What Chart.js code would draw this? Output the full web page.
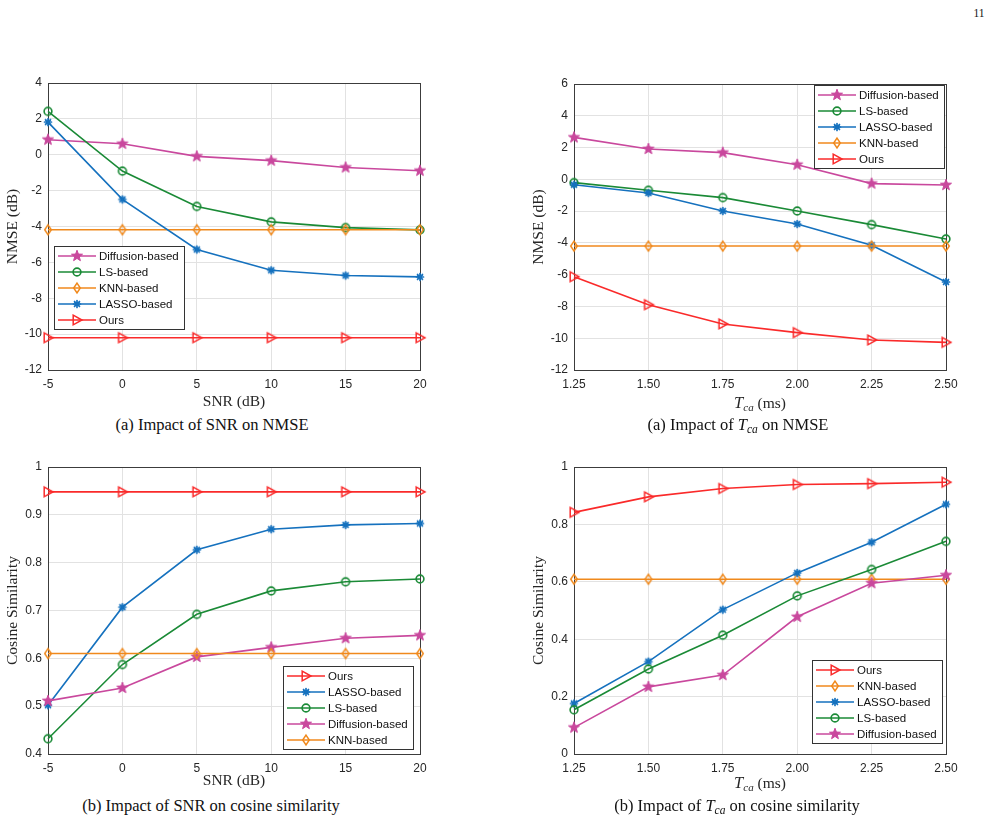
<!DOCTYPE html>
<html><head><meta charset="utf-8">
<script src="https://cdn.jsdelivr.net/npm/chart.js@4.4.0/dist/chart.umd.min.js"></script>
<style>
html,body{margin:0;padding:0;background:#fff;}
body{width:994px;height:829px;position:relative;overflow:hidden;}
canvas{position:absolute;display:block;}
.cap{position:absolute;font-family:"Liberation Serif","Times New Roman",serif;font-size:16.5px;color:#111;white-space:nowrap;transform:translate(-50%,-50%);}
.xt{position:absolute;font-family:"Liberation Serif","Times New Roman",serif;font-size:15.5px;color:#262626;white-space:nowrap;transform:translate(-50%,-50%);}
.xt i{font-size:16.5px;}
.xt sub{font-size:11px;font-style:italic;vertical-align:-3px;}
.cap sub{font-size:11.5px;font-style:italic;vertical-align:-3px;}
</style></head><body>
<div class="cap" style="left:979px;top:13px;font-size:11.5px">11</div>
<canvas id="c1" width="440" height="336" style="left:0;top:75px"></canvas>
<canvas id="c2" width="470" height="336" style="left:500px;top:75px"></canvas>
<canvas id="c3" width="440" height="335" style="left:0;top:455px"></canvas>
<canvas id="c4" width="470" height="335" style="left:500px;top:455px"></canvas>
<div class="xt" style="left:760px;top:403px"><i>T</i><sub>ca</sub> (ms)</div>
<div class="xt" style="left:760px;top:783px"><i>T</i><sub>ca</sub> (ms)</div>
<div class="cap" style="left:212px;top:425px">(a) Impact of SNR on NMSE</div>
<div class="cap" style="left:738px;top:425px">(a) Impact of <i>T</i><sub>ca</sub> on NMSE</div>
<div class="cap" style="left:211px;top:806px">(b) Impact of SNR on cosine similarity</div>
<div class="cap" style="left:737px;top:806px">(b) Impact of <i>T</i><sub>ca</sub> on cosine similarity</div>
<script>
// ---------- data ----------
const snrValues = [-5, 0, 5, 10, 15, 20];
const tcaValues = [1.25, 1.50, 1.75, 2.00, 2.25, 2.50];

const nmseSnrYTicks = [-12, -10, -8, -6, -4, -2, 0, 2, 4];
const nmseTcaYTicks = [-12, -10, -8, -6, -4, -2, 0, 2, 4, 6];
const cosSnrYTicks = [0.4, 0.5, 0.6, 0.7, 0.8, 0.9, 1];
const cosTcaYTicks = [0, 0.2, 0.4, 0.6, 0.8, 1];

const nmseSnrDiffusion = [0.84, 0.61, -0.09, -0.33, -0.71, -0.89];
const nmseSnrLS        = [2.42, -0.91, -2.88, -3.74, -4.06, -4.19];
const nmseSnrKNN       = [-4.18, -4.18, -4.18, -4.18, -4.18, -4.18];
const nmseSnrLASSO     = [1.82, -2.49, -5.28, -6.44, -6.73, -6.81];
const nmseSnrOurs      = [-10.2, -10.2, -10.2, -10.2, -10.2, -10.2];

const nmseTcaDiffusion = [2.64, 1.91, 1.68, 0.92, -0.27, -0.36];
const nmseTcaLS        = [-0.21, -0.69, -1.15, -1.99, -2.85, -3.75];
const nmseTcaLASSO     = [-0.34, -0.86, -1.99, -2.81, -4.15, -6.46];
const nmseTcaKNN       = [-4.2, -4.2, -4.2, -4.2, -4.2, -4.2];
const nmseTcaOurs      = [-6.13, -7.89, -9.10, -9.65, -10.11, -10.26];

const cosSnrOurs       = [0.948, 0.948, 0.948, 0.948, 0.948, 0.948];
const cosSnrLASSO      = [0.502, 0.707, 0.827, 0.870, 0.879, 0.882];
const cosSnrLS         = [0.432, 0.587, 0.692, 0.741, 0.760, 0.766];
const cosSnrDiffusion  = [0.511, 0.538, 0.603, 0.623, 0.642, 0.648];
const cosSnrKNN        = [0.610, 0.610, 0.610, 0.610, 0.610, 0.610];

const cosTcaOurs       = [0.842, 0.896, 0.925, 0.939, 0.942, 0.947];
const cosTcaKNN        = [0.609, 0.609, 0.609, 0.609, 0.609, 0.609];
const cosTcaLASSO      = [0.176, 0.322, 0.503, 0.631, 0.738, 0.870];
const cosTcaLS         = [0.154, 0.296, 0.414, 0.551, 0.643, 0.741];
const cosTcaDiffusion  = [0.092, 0.234, 0.275, 0.478, 0.595, 0.623];

// ---------- styles ----------
function mk(draw) {
  const c = document.createElement('canvas'); c.width = 16; c.height = 16;
  const g = c.getContext('2d'); g.translate(8, 8); draw(g); return c;
}
const starImg = col => mk(g => { g.beginPath(); for (let k = 0; k < 10; k++) { const r = k % 2 ? 2.4 : 5.8; const a = -Math.PI / 2 + k * Math.PI / 5; g.lineTo(r * Math.cos(a), r * Math.sin(a)); } g.closePath(); g.fillStyle = col; g.fill(); g.strokeStyle = col; g.lineWidth = 1; g.stroke(); });
const circleImg = col => mk(g => { g.beginPath(); g.arc(0, 0, 3.9, 0, 2 * Math.PI); g.strokeStyle = col; g.lineWidth = 1.6; g.stroke(); });
const diamondImg = col => mk(g => { g.beginPath(); g.moveTo(0, -4.9); g.lineTo(3.3, 0); g.lineTo(0, 4.9); g.lineTo(-3.3, 0); g.closePath(); g.strokeStyle = col; g.lineWidth = 1.5; g.stroke(); });
const asteriskImg = col => mk(g => { g.strokeStyle = col; g.lineWidth = 1.7; g.lineCap = 'round'; for (let k = 0; k < 4; k++) { const a = k * Math.PI / 4; g.beginPath(); g.moveTo(-3.5 * Math.cos(a), -3.5 * Math.sin(a)); g.lineTo(3.5 * Math.cos(a), 3.5 * Math.sin(a)); g.stroke(); } g.beginPath(); g.arc(0, 0, 2, 0, 2 * Math.PI); g.fillStyle = col; g.fill(); });
const triImg = col => mk(g => { g.beginPath(); g.moveTo(-3.8, -4.8); g.lineTo(5, 0); g.lineTo(-3.8, 4.8); g.closePath(); g.strokeStyle = col; g.lineWidth = 1.5; g.stroke(); });

const series = {
  'Diffusion-based': { color: '#c9489d', img: starImg('#c9489d') },
  'LS-based':        { color: '#1a8a36', img: circleImg('#1a8a36') },
  'KNN-based':       { color: '#f0891c', img: diamondImg('#f0891c') },
  'LASSO-based':     { color: '#1571be', img: asteriskImg('#1571be') },
  'Ours':            { color: '#fa2a2a', img: triImg('#fa2a2a') }
};

function ds(label, xs, ys, i, n) {
  const s = series[label];
  return {
    label, data: xs.map((x, k) => ({ x, y: ys[k] })),
    borderColor: s.color, backgroundColor: s.color, borderWidth: 1.6,
    pointStyle: s.img, pointRadius: 4, tension: 0, clip: false, order: n - i
  };
}

// frame + legend plugin
const frameLegend = {
  id: 'frameLegend',
  beforeDatasetsDraw(chart) {
    const { ctx, chartArea: a } = chart;
    ctx.save(); ctx.strokeStyle = '#3c3c3c'; ctx.lineWidth = 1;
    ctx.strokeRect(Math.round(a.left) + 0.5, Math.round(a.top) + 0.5, Math.round(a.right - a.left), Math.round(a.bottom - a.top));
    ctx.restore();
  },
  afterDatasetsDraw(chart, args, o) {
    if (!o || !o.w) return;
    const { ctx, chartArea: a } = chart;
    const left = o.side === 'left' ? a.left + o.dx : a.right - o.dx - o.w;
    const top = o.vert === 'top' ? a.top + o.dy : a.bottom - o.dy - o.h;
    ctx.save();
    ctx.fillStyle = '#fff'; ctx.fillRect(left, top, o.w, o.h);
    ctx.strokeStyle = '#333'; ctx.lineWidth = 1;
    ctx.strokeRect(Math.round(left) + 0.5, Math.round(top) + 0.5, o.w, o.h);
    chart.data.datasets.forEach((d, i) => {
      const s = series[d.label];
      const y = Math.round(top + 9.5 + i * 16);
      ctx.strokeStyle = s.color; ctx.lineWidth = 1.6;
      ctx.beginPath(); ctx.moveTo(left + 4, y); ctx.lineTo(left + 42, y); ctx.stroke();
      ctx.drawImage(s.img, left + 23 - 8, y - 8);
      ctx.fillStyle = '#111'; ctx.font = '11.5px "Liberation Sans", Arial, sans-serif';
      ctx.textBaseline = 'middle'; ctx.textAlign = 'left';
      ctx.fillText(d.label, left + 45, y + 0.5);
    });
    ctx.restore();
  }
};

function scales(xTicks, xFmt, xTitle, xH, yTicks, yFmt, yTitle) {
  const tickFont = { family: '"Liberation Sans", Arial, sans-serif', size: 12 };
  const titleFont = { family: '"Liberation Serif", "Times New Roman", serif', size: 15.5 };
  return {
    x: {
      type: 'linear', min: xTicks[0], max: xTicks[xTicks.length - 1],
      afterBuildTicks: ax => { ax.ticks = xTicks.map(v => ({ value: v })); },
      afterFit: ax => { ax.height = xH; ax.paddingLeft = 0; ax.paddingRight = 0; },
      ticks: { callback: v => xFmt(v), font: tickFont, color: '#262626', padding: 7, maxRotation: 0, autoSkip: false },
      grid: { color: '#e2e2e2', drawTicks: false, lineWidth: 1 },
      border: { display: true, color: '#3c3c3c', width: 1 },
      title: { display: !!xTitle, text: xTitle || '', font: titleFont, color: '#262626', padding: { top: 0, bottom: 0 } }
    },
    y: {
      type: 'linear', min: yTicks[0], max: yTicks[yTicks.length - 1],
      afterBuildTicks: ax => { ax.ticks = yTicks.map(v => ({ value: v })); },
      afterFit: ax => { ax.width = 48; ax.paddingTop = 0; ax.paddingBottom = 0; },
      ticks: { callback: v => yFmt(v), font: tickFont, color: '#262626', padding: 6, autoSkip: false },
      grid: { color: '#e2e2e2', drawTicks: false, lineWidth: 1 },
      border: { display: true, color: '#3c3c3c', width: 1 },
      title: { display: true, text: yTitle, font: titleFont, color: '#262626', padding: { top: 4, bottom: 0 } }
    }
  };
}

const intFmt = v => String(v);
const f2 = v => v.toFixed(2);
const f1 = v => String(Number(v.toFixed(1)));

function make(id, datasets, sc, pad, leg) {
  new Chart(document.getElementById(id), {
    type: 'line',
    data: { datasets },
    options: {
      responsive: false, animation: false, events: [],
      layout: { padding: pad },
      scales: sc,
      plugins: { legend: { display: false }, tooltip: { enabled: false }, frameLegend: leg }
    },
    plugins: [frameLegend]
  });
}

function build(xs, list) { return list.map((p, i) => ds(p[0], xs, p[1], i, list.length)); }

make('c1', build(snrValues, [
  ['Diffusion-based', nmseSnrDiffusion], ['LS-based', nmseSnrLS], ['KNN-based', nmseSnrKNN],
  ['LASSO-based', nmseSnrLASSO], ['Ours', nmseSnrOurs]]),
  scales(snrValues, intFmt, 'SNR (dB)', 41, nmseSnrYTicks, intFmt, 'NMSE (dB)'),
  { left: 0, top: 8, right: 20, bottom: 0 },
  { side: 'left', dx: 6, vert: 'bottom', dy: 41, w: 130, h: 83 });

make('c2', build(tcaValues, [
  ['Diffusion-based', nmseTcaDiffusion], ['LS-based', nmseTcaLS], ['LASSO-based', nmseTcaLASSO],
  ['KNN-based', nmseTcaKNN], ['Ours', nmseTcaOurs]]),
  scales(tcaValues, f2, '', 41, nmseTcaYTicks, intFmt, 'NMSE (dB)'),
  { left: 26, top: 9, right: 24, bottom: 0 },
  { side: 'right', dx: 2, vert: 'top', dy: 1, w: 130, h: 83 });

make('c3', build(snrValues, [
  ['Ours', cosSnrOurs], ['LASSO-based', cosSnrLASSO], ['LS-based', cosSnrLS],
  ['Diffusion-based', cosSnrDiffusion], ['KNN-based', cosSnrKNN]]),
  scales(snrValues, intFmt, 'SNR (dB)', 36, cosSnrYTicks, f1, 'Cosine Similarity'),
  { left: 0, top: 12, right: 20, bottom: 0 },
  { side: 'right', dx: 7, vert: 'bottom', dy: 5, w: 130, h: 83 });

make('c4', build(tcaValues, [
  ['Ours', cosTcaOurs], ['KNN-based', cosTcaKNN], ['LASSO-based', cosTcaLASSO],
  ['LS-based', cosTcaLS], ['Diffusion-based', cosTcaDiffusion]]),
  scales(tcaValues, f2, '', 36, cosTcaYTicks, f1, 'Cosine Similarity'),
  { left: 26, top: 12, right: 24, bottom: 0 },
  { side: 'right', dx: 4, vert: 'bottom', dy: 11, w: 130, h: 83 });
</script>
</body></html>
